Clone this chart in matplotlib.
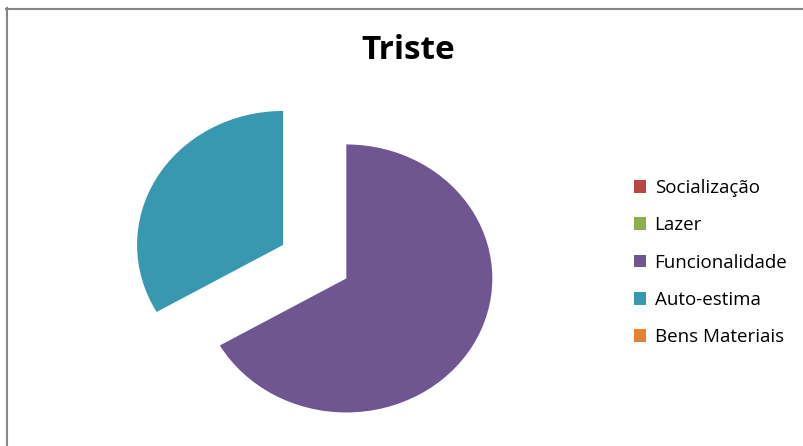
import matplotlib
matplotlib.use("Agg")
import matplotlib.pyplot as plt
from matplotlib.patches import Rectangle
from matplotlib.lines import Line2D

categories = ["Socialização", "Lazer", "Funcionalidade", "Auto-estima", "Bens Materiais"]
values = [0, 0, 2, 1, 0]
colors = ["#B9463F", "#8CAD4C", "#6F5690", "#3798B0", "#E5822F"]
title = "Triste"

W, H = 804, 446
fig = plt.figure(figsize=(W / 100, H / 100), dpi=100)

# pie axes (slightly stretched horizontally, like the reference)
rx, ry = 146.0, 134.0
cx, cy = 314.7, 261.7
lim = 1.3
aw, ah = 2 * lim * rx, 2 * lim * ry
ax = fig.add_axes([(cx - aw / 2) / W, (H - cy - ah / 2) / H, aw / W, ah / H])
wedges, _ = ax.pie(values, colors=colors, startangle=90, counterclock=False,
                   explode=[0.25] * len(values), radius=1.0,
                   wedgeprops=dict(linewidth=0))
ax.set_aspect("auto")
ax.set_xlim(-lim, lim)
ax.set_ylim(-lim, lim)
ax.axis("off")

fig.text(408.5 / W, 1 - 59 / H, title, ha="center", va="baseline",
         fontsize=24, fontweight="bold", family=["Open Sans", "DejaVu Sans"])

handles = [Rectangle((0, 0), 1, 1, facecolor=c, edgecolor="none") for c in colors]
fig.legend(handles, categories, loc="upper left",
           bbox_to_anchor=(634 / W, 1 - 179 / H), frameon=False,
           prop=dict(family=["Open Sans", "DejaVu Sans"], size=13.5),
           handlelength=0.65, handleheight=0.65, handletextpad=0.45,
           labelspacing=1.03, borderpad=0, borderaxespad=0)

# border (top and left visible)
fig.add_artist(Line2D([7 / W, 7 / W], [0, 1 - 8 / H], transform=fig.transFigure,
                      color="#868686", linewidth=1.5))
fig.add_artist(Line2D([6 / W, 1], [1 - 8.5 / H, 1 - 8.5 / H], transform=fig.transFigure,
                      color="#868686", linewidth=1.5))

fig.savefig("out.png", dpi=100, facecolor="white")
